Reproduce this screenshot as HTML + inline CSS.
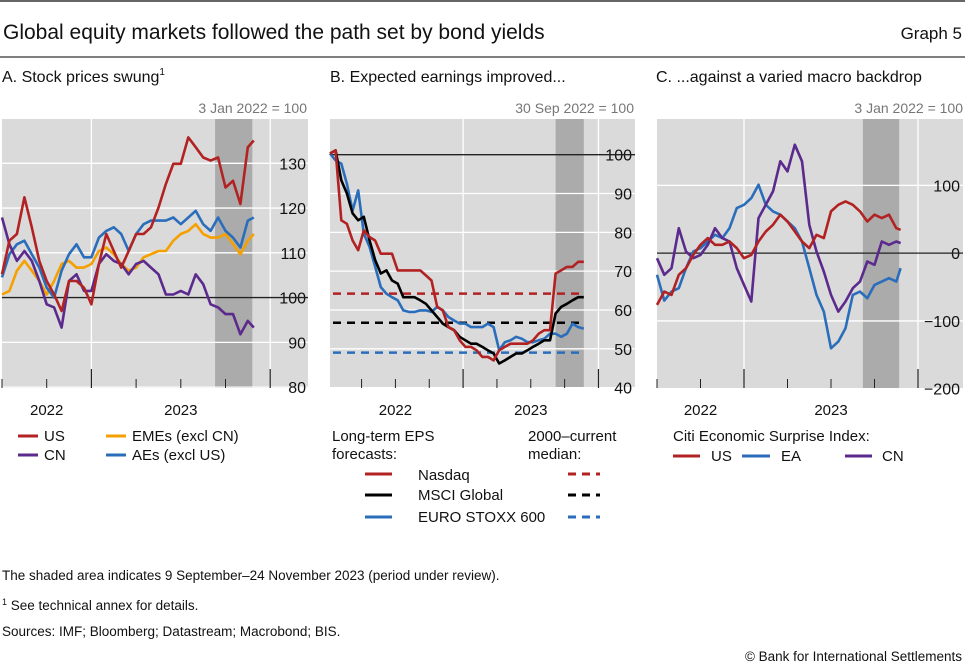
<!DOCTYPE html>
<html><head><meta charset="utf-8"><style>
body{margin:0;background:#fff;}
svg{display:block;font-family:"Liberation Sans",sans-serif;}
</style></head><body>
<svg id="c" width="965" height="665" viewBox="0 0 965 665" xmlns="http://www.w3.org/2000/svg">
<line x1="0" y1="1" x2="965" y2="1" stroke="#333" stroke-width="1.5"/>
<text x="3" y="39" font-size="21" fill="#111">Global equity markets followed the path set by bond yields</text>
<text x="962" y="39" font-size="17" fill="#111" text-anchor="end">Graph 5</text>
<line x1="0" y1="57" x2="965" y2="57" stroke="#555" stroke-width="1.5"/>
<text x="2" y="82" font-size="16" fill="#111">A. Stock prices swung<tspan font-size="10" dy="-7">1</tspan></text>
<text x="330" y="82" font-size="16" fill="#111">B. Expected earnings improved...</text>
<text x="656" y="82" font-size="16" fill="#111">C. ...against a varied macro backdrop</text>
<text x="307" y="113" font-size="14" fill="#777" text-anchor="end">3 Jan 2022 = 100</text>
<text x="634" y="113" font-size="14" fill="#777" text-anchor="end">30 Sep 2022 = 100</text>
<text x="963" y="113" font-size="14" fill="#777" text-anchor="end">3 Jan 2022 = 100</text>
<g id="pa"></g><g id="pb"></g><g id="pc"></g>
<g font-size="15" fill="#111">
<line x1="18" y1="436" x2="38" y2="436" stroke="#b22222" stroke-width="3"/><text x="44" y="441">US</text>
<line x1="106" y1="436" x2="126" y2="436" stroke="#f5a000" stroke-width="3"/><text x="132" y="441">EMEs (excl CN)</text>
<line x1="18" y1="455" x2="38" y2="455" stroke="#5b2a8c" stroke-width="3"/><text x="44" y="460">CN</text>
<line x1="106" y1="455" x2="126" y2="455" stroke="#2a6ebb" stroke-width="3"/><text x="132" y="460">AEs (excl US)</text>
</g>
<g font-size="15" fill="#111">
<text x="332" y="441">Long-term EPS</text><text x="332" y="459">forecasts:</text>
<text x="528" y="441">2000–current</text><text x="528" y="459">median:</text>
<line x1="365" y1="474" x2="392" y2="474" stroke="#b22222" stroke-width="3"/><text x="418" y="480">Nasdaq</text>
<line x1="365" y1="495" x2="392" y2="495" stroke="#000" stroke-width="3"/><text x="418" y="500">MSCI Global</text>
<line x1="365" y1="517" x2="392" y2="517" stroke="#2a6ebb" stroke-width="3"/><text x="418" y="522">EURO STOXX 600</text>
<line x1="568" y1="474" x2="600" y2="474" stroke="#b22222" stroke-width="3" stroke-dasharray="8,6"/>
<line x1="568" y1="495" x2="600" y2="495" stroke="#000" stroke-width="3" stroke-dasharray="8,6"/>
<line x1="568" y1="517" x2="600" y2="517" stroke="#2a6ebb" stroke-width="3" stroke-dasharray="8,6"/>
</g>
<g font-size="15" fill="#111">
<text x="673" y="441">Citi Economic Surprise Index:</text>
<line x1="673" y1="456" x2="700" y2="456" stroke="#b22222" stroke-width="3"/><text x="711" y="461">US</text>
<line x1="742" y1="456" x2="770" y2="456" stroke="#2a6ebb" stroke-width="3"/><text x="781" y="461">EA</text>
<line x1="845" y1="456" x2="872" y2="456" stroke="#5b2a8c" stroke-width="3"/><text x="882" y="461">CN</text>
</g>
<text x="2" y="580" font-size="13.5" fill="#111">The shaded area indicates 9 September–24 November 2023 (period under review).</text>
<text x="2" y="610" font-size="13.5" fill="#111"><tspan font-size="9" dy="-5">1</tspan><tspan dy="5">  See technical annex for details.</tspan></text>
<text x="2" y="636" font-size="13.5" fill="#111">Sources: IMF; Bloomberg; Datastream; Macrobond; BIS.</text>
<text x="962" y="661" font-size="13.5" fill="#111" text-anchor="end">© Bank for International Settlements</text>
</svg>
<script>
const aTicks = [130, 120, 110, 100, 90, 80];
const aUS  = [105.2,112.7,114.2,122.4,115.7,108.2,103.7,100.7,97,103.7,103.7,102.2,98.5,107.5,114.2,110.4,106.7,110.4,114.2,114.2,115.7,120.1,125.4,129.9,129.9,135.8,133.6,131.3,130.6,131.3,124.6,126.1,120.9,133.6,135.1];
const aAE  = [104.5,109.7,111.9,112.7,109.7,106.7,102.2,100,106,109.7,111.9,109,109,113.4,114.9,115.7,114.2,110.4,114.2,116.4,117.2,117.2,117.2,117.9,116.4,117.9,119.4,116.4,114.9,117.9,114.9,113.4,111.2,117.2,117.9];
const aEM  = [100.7,101.5,106,108.2,106,103.7,100.7,103.7,107.5,108.2,106.7,106.7,107.5,110.4,111.2,109.7,107.5,106,106.7,109,109.7,110.4,110.4,112.7,114.2,114.9,116.4,114.2,113.4,113.4,114.2,112,109.7,112.7,114.2];
const aCN  = [117.9,111.9,108.2,110.4,108.2,103.7,98.5,97.8,93.3,103.7,105.2,101.5,101.5,107.5,109.7,108.2,107.5,105.2,107.5,108.2,106.7,105.2,100.7,100.7,101.5,100.7,105.2,103,98.5,97.8,96.3,96.3,91.8,94.8,93.3];
const bTicks = [100, 90, 80, 70, 60, 50, 40];
const bNasdaq = [100.3,101.1,83.1,82.2,77.9,75.4,80.5,78.8,77.9,74.5,74.5,74.5,70.2,70.2,70.2,70.2,70.2,68.9,67.6,60.8,59.9,55.6,54.8,52.2,50.5,50.5,49.6,47.9,47.9,47,49.6,50.5,51.3,51.3,51.3,51.3,52.2,53.9,54.8,54.8,69.4,70.2,71.1,71.1,72.4,72.4];
const bMSCI   = [100.3,101.1,93.4,90,84.9,83.1,84,78,72.9,69.4,70.2,67.6,66.8,63.3,63.3,63.3,62.5,61.6,59.9,58.2,56.5,55.6,54.8,53.1,52.2,51.3,51.3,50.5,49.6,48.8,46.2,47,47.9,48.8,48.8,49.6,50.5,51.3,52.2,52.2,59.1,60.8,61.6,62.5,63.3,63.3];
const bStoxx  = [100.3,98.5,97.7,92.5,85.6,90.8,79.7,76.3,71.2,65.9,64.2,63.3,62.5,59.9,59.5,59.5,59.9,59.9,59.5,60.8,59.9,58.2,57.3,56.5,56.5,55.6,55.6,55.6,56.5,55.6,49.6,51.7,52.2,53.1,52.6,51.7,51.7,52.2,52.6,53.9,53.9,53.1,53.9,56.5,55.6,55.2];
const bMedians = [64.2, 56.7, 49.0];
const cTicks = [100, 0, -100, -200];
const cUS = [-76.4,-56.7,-61.6,-32,-22.2,-2.5,12.3,22.2,12.3,12.3,17.2,7.4,-7.4,-2.5,17.2,32,41.9,56.7,46.8,32,17.2,7.4,27.1,22.2,61.6,71.4,76.4,71.4,61.6,46.8,56.7,51.7,56.7,36.9,34.5];
const cEA = [-32,-70,-56.7,-51.7,-22.2,2.5,7.4,17.2,27.1,22.2,36.9,66.5,71.4,81.3,101,71.4,61.6,56.7,46.8,36.9,17.2,-22.2,-61.6,-86.2,-140.4,-130.5,-110.8,-61.6,-56.7,-66.5,-46.8,-41.9,-36.9,-41.9,-22.2];
const cCN = [-7.4,-32,-22.2,36.9,2.5,-7.4,-2.5,12.3,36.9,22.2,17.2,-22.2,-46.8,-71.4,51.7,71.4,91.1,135.5,120.7,160.1,135.5,41.9,2.5,-27.1,-61.6,-86.2,-71.4,-51.7,-41.9,-12.3,-17.2,17.2,12.3,17.2,14.8];

const NS='http://www.w3.org/2000/svg';
function mk(tag, attrs, parent){const e=document.createElementNS(NS,tag);for(const k in attrs)e.setAttribute(k,attrs[k]);parent.appendChild(e);return e;}

function panel(g, cfg){
  const {x0,x1,y0,y1,vmin,vmax,m0,mpp,ticks,refVal,years,quarters,majors,shade,series,hlines,endM,lblX,name}=cfg;
  const X=m=>x0+(m-m0)*mpp;
  const Y=v=>y1-(v-vmin)/(vmax-vmin)*(y1-y0);
  const bg=mk('rect',{x:x0,y:y0,width:x1-x0,height:y1-y0,fill:'#dadada'},g);
  
  
  const sh=mk('rect',{x:X(shade[0]),y:y0,width:X(shade[1])-X(shade[0]),height:y1-y0,fill:'#ababab'},g);
  
  
  ticks.forEach(t=>{
    if(t!==refVal && t!==vmin){const l=mk('line',{x1:x0,x2:x1,y1:Y(t),y2:Y(t),stroke:'#fff','stroke-width':1.3},g);
      
      }
    const tx=mk('text',{x:lblX,y:Y(t)+6,'font-size':16,'text-anchor':'end',fill:'#111'},g);
    tx.textContent=(t<0?'\u2212'+(-t):t);
    
    
  });
  majors.forEach(m=>{const l=mk('line',{x1:X(m),x2:X(m),y1:y0,y2:y1,stroke:'#fff','stroke-width':1.3},g);
    
    
    const tk=mk('line',{x1:X(m),x2:X(m),y1:y1-19,y2:y1,stroke:'#222','stroke-width':1.2},g);
    
    });
  quarters.forEach(m=>{const tk=mk('line',{x1:X(m),x2:X(m),y1:y1-9,y2:y1,stroke:'#222','stroke-width':1},g);
    
    });
  const rl=mk('line',{x1:x0,x2:x1,y1:Y(refVal),y2:Y(refVal),stroke:'#222','stroke-width':1.3},g);
  
  
  (hlines||[]).forEach(h=>{const l=mk('line',{x1:x0+3,x2:X(endM),y1:Y(h.v),y2:Y(h.v),stroke:h.c,'stroke-width':2.5,'stroke-dasharray':'8,6'},g);
    
    });
  series.forEach(s=>{
    const n=s.d.length;
    const pts=s.d.map((v,i)=>{const m=(i===n-1)?endM:i*0.5;return X(m).toFixed(1)+','+Y(v).toFixed(1);});
    const p=mk('polyline',{points:pts.join(' '),fill:'none',stroke:s.c,'stroke-width':2.6,'stroke-linejoin':'round'},g);
    
    
  });
  years.forEach(y=>{const t=mk('text',{x:X(y.m),y:y1+27,'font-size':15,'text-anchor':'middle',fill:'#111'},g);t.textContent=y.t;
    
    });
}
panel(document.getElementById('pa'),{name:'panel-a',x0:2,x1:308,y0:119,y1:388,vmin:79.8,vmax:139.9,m0:0,mpp:14.9,ticks:aTicks,refVal:100,
  majors:[6,18],quarters:[0,3,9,12,15],shade:[14.3,16.8],endM:16.9,lblX:306,
  years:[{m:3,t:'2022'},{m:12,t:'2023'}],
  series:[{d:aEM,c:'#f5a000',n:'series-emes'},{d:aAE,c:'#2a6ebb',n:'series-aes'},{d:aCN,c:'#5b2a8c',n:'series-cn'},{d:aUS,c:'#b22222',n:'series-us'}]});
panel(document.getElementById('pb'),{name:'panel-b',x0:330,x1:635,y0:119,y1:388,vmin:39.9,vmax:109.2,m0:0,mpp:11.28,ticks:bTicks,refVal:100,
  majors:[11.8,23.8],quarters:[2.8,5.8,8.8,14.8,17.8,20.8],shade:[20.0,22.5],endM:22.5,lblX:632,
  years:[{m:5.8,t:'2022'},{m:17.8,t:'2023'}],
  hlines:[{v:bMedians[0],c:'#b22222',n:'median-nasdaq'},{v:bMedians[1],c:'#000',n:'median-msci-global'},{v:bMedians[2],c:'#2a6ebb',n:'median-euro-stoxx'}],
  series:[{d:bStoxx,c:'#2a6ebb',n:'series-euro-stoxx-600'},{d:bMSCI,c:'#000',n:'series-msci-global'},{d:bNasdaq,c:'#b22222',n:'series-nasdaq'}]});
panel(document.getElementById('pc'),{name:'panel-c',x0:657,x1:963,y0:119,y1:388,vmin:-199,vmax:198,m0:0,mpp:14.5,ticks:cTicks,refVal:0,
  majors:[6,18],quarters:[0,3,9,12,15],shade:[14.2,16.7],endM:16.8,lblX:960,
  years:[{m:3,t:'2022'},{m:12,t:'2023'}],
  series:[{d:cEA,c:'#2a6ebb',n:'series-ea'},{d:cCN,c:'#5b2a8c',n:'series-cn'},{d:cUS,c:'#b22222',n:'series-us'}]});
</script>
</body></html>
